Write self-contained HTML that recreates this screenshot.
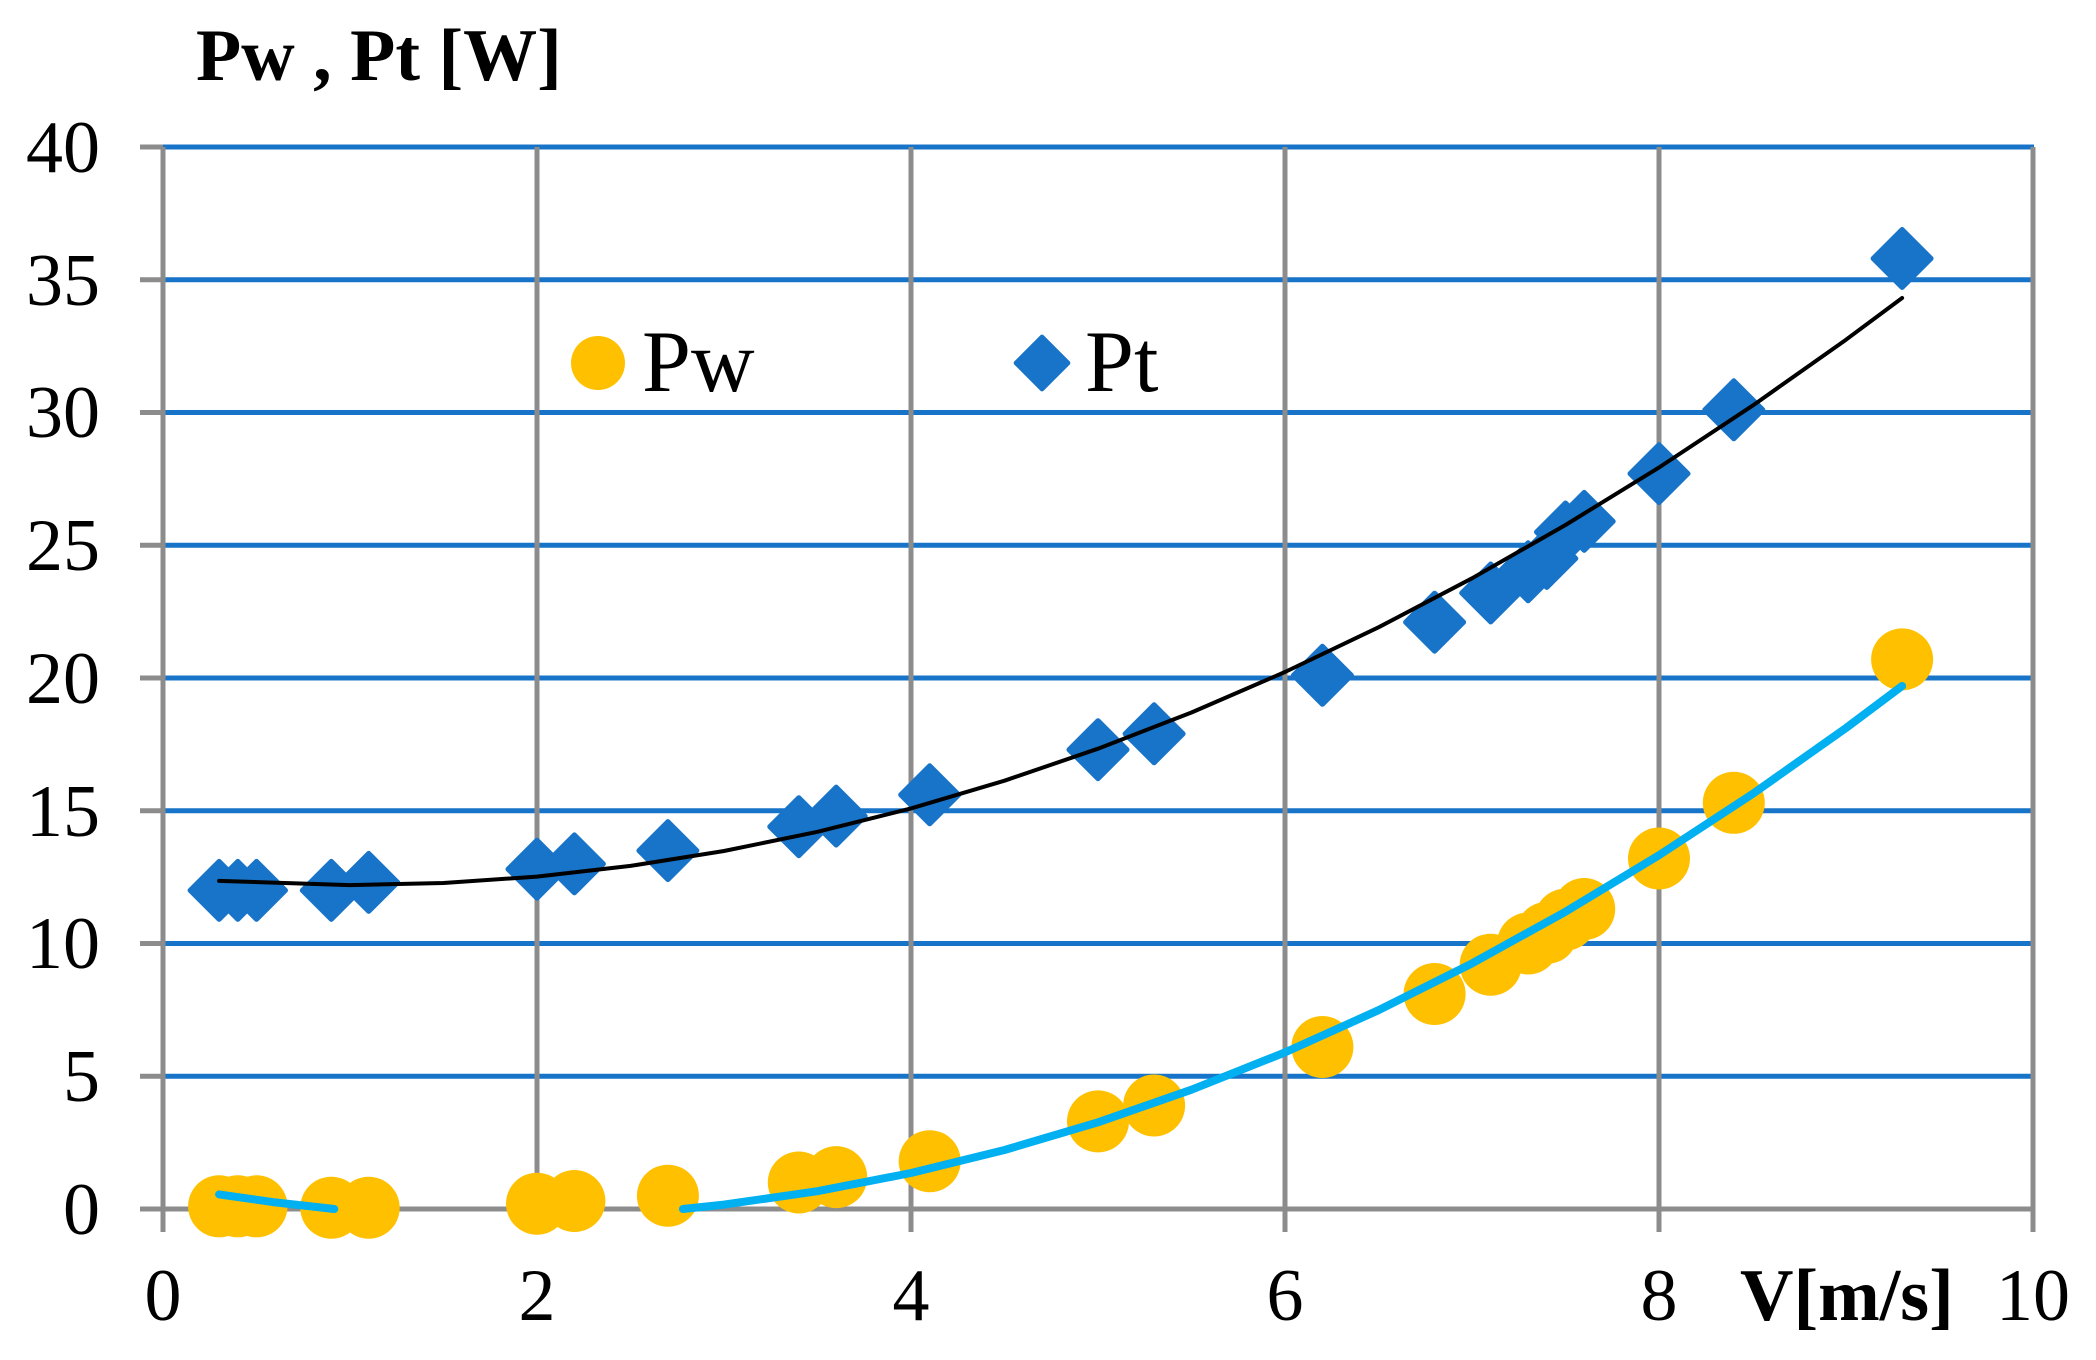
<!DOCTYPE html>
<html><head><meta charset="utf-8"><style>html,body{margin:0;padding:0;background:#fff}svg{display:block}</style></head>
<body>
<svg width="2096" height="1360" viewBox="0 0 2096 1360" xmlns="http://www.w3.org/2000/svg" font-family="'Liberation Serif', serif">
<defs><path id="d" d="M0,-29L29,0L0,29L-29,0Z" fill="#1874C8" stroke="#1874C8" stroke-width="5" stroke-linejoin="round"/></defs>
<g stroke="#1874C8" stroke-width="5">
<line x1="163" x2="2034" y1="1076.25" y2="1076.25"/><line x1="163" x2="2034" y1="943.5" y2="943.5"/>
<line x1="163" x2="2034" y1="810.75" y2="810.75"/><line x1="163" x2="2034" y1="678" y2="678"/>
<line x1="163" x2="2034" y1="545.25" y2="545.25"/><line x1="163" x2="2034" y1="412.5" y2="412.5"/>
<line x1="163" x2="2034" y1="279.75" y2="279.75"/><line x1="163" x2="2034" y1="147" y2="147"/>
</g>
<g stroke="#8C8C8C" stroke-width="5">
<line x1="163" x2="163" y1="147" y2="1232"/><line x1="537" x2="537" y1="147" y2="1232"/>
<line x1="911" x2="911" y1="147" y2="1232"/><line x1="1285" x2="1285" y1="147" y2="1232"/>
<line x1="1659" x2="1659" y1="147" y2="1232"/><line x1="2033" x2="2033" y1="147" y2="1232"/>
<line x1="140" x2="2035" y1="1209" y2="1209"/>
<line x1="140" x2="163" y1="1076.25" y2="1076.25"/><line x1="140" x2="163" y1="943.5" y2="943.5"/>
<line x1="140" x2="163" y1="810.75" y2="810.75"/><line x1="140" x2="163" y1="678" y2="678"/>
<line x1="140" x2="163" y1="545.25" y2="545.25"/><line x1="140" x2="163" y1="412.5" y2="412.5"/>
<line x1="140" x2="163" y1="279.75" y2="279.75"/><line x1="140" x2="163" y1="147" y2="147"/>
</g>
<g font-size="74" text-anchor="end" fill="#000">
<text x="100" y="1234">0</text><text x="100" y="1101">5</text><text x="100" y="968">10</text>
<text x="100" y="836">15</text><text x="100" y="703">20</text><text x="100" y="570">25</text>
<text x="100" y="437">30</text><text x="100" y="305">35</text><text x="100" y="172">40</text>
</g>
<g font-size="74" text-anchor="middle" fill="#000">
<text x="163" y="1320">0</text><text x="537" y="1320">2</text><text x="911" y="1320">4</text>
<text x="1285" y="1320">6</text><text x="1659" y="1320">8</text><text x="2033" y="1320">10</text>
</g>
<text x="1740" y="1320" font-size="74" font-weight="bold">V[m/s]</text>
<text x="196" y="80" font-size="74" font-weight="bold">Pw , Pt [W]</text>
<circle cx="598" cy="363" r="27" fill="#FFC000"/>
<text x="642" y="391" font-size="88">Pw</text>
<use href="#d" x="1042" y="363" transform="translate(1042,363) scale(0.9) translate(-1042,-363)"/>
<text x="1085" y="391" font-size="88">Pt</text>
<g fill="#FFC000">
<circle cx="219.1" cy="1206.3" r="31"/><circle cx="237.8" cy="1206.3" r="31"/><circle cx="256.5" cy="1206.3" r="31"/>
<circle cx="331.3" cy="1207.7" r="31"/><circle cx="368.7" cy="1207.7" r="31"/><circle cx="537" cy="1203.7" r="31"/>
<circle cx="574.4" cy="1201" r="31"/><circle cx="667.9" cy="1195.7" r="31"/><circle cx="798.8" cy="1182.5" r="31"/>
<circle cx="836.2" cy="1177.1" r="31"/><circle cx="929.7" cy="1161.2" r="31"/><circle cx="1098" cy="1121.4" r="31"/>
<circle cx="1154.1" cy="1105.5" r="31"/><circle cx="1322.4" cy="1047" r="31"/><circle cx="1434.6" cy="994" r="31"/>
<circle cx="1490.7" cy="964.7" r="31"/><circle cx="1528.1" cy="943.5" r="31"/><circle cx="1546.8" cy="932.9" r="31"/>
<circle cx="1565.5" cy="919.6" r="31"/><circle cx="1584.2" cy="909" r="31"/><circle cx="1659" cy="858.5" r="31"/>
<circle cx="1733.8" cy="802.8" r="31"/><circle cx="1902.1" cy="659.4" r="31"/>
</g>
<g>
<use href="#d" x="219.1" y="890.4"/><use href="#d" x="237.8" y="890.4"/><use href="#d" x="256.5" y="890.4"/>
<use href="#d" x="331.3" y="890.4"/><use href="#d" x="368.7" y="882.4"/><use href="#d" x="537" y="869.2"/>
<use href="#d" x="574.4" y="863.9"/><use href="#d" x="667.9" y="850.6"/><use href="#d" x="798.8" y="826.7"/>
<use href="#d" x="836.2" y="816.1"/><use href="#d" x="929.7" y="794.8"/><use href="#d" x="1098" y="749.7"/>
<use href="#d" x="1154.1" y="733.8"/><use href="#d" x="1322.4" y="675.3"/><use href="#d" x="1434.6" y="622.2"/>
<use href="#d" x="1490.7" y="593"/><use href="#d" x="1528.1" y="571.8"/><use href="#d" x="1546.8" y="558.5"/>
<use href="#d" x="1565.5" y="532"/><use href="#d" x="1584.2" y="521.4"/><use href="#d" x="1659" y="473.6"/>
<use href="#d" x="1733.8" y="409.8"/><use href="#d" x="1902.1" y="258.5"/>
</g>
<g fill="none" stroke="#00B0F0" stroke-width="8" stroke-linecap="round" stroke-linejoin="round">
<polyline points="219.1,1194.4 275.2,1202.4 334.3,1209"/>
<polyline points="682.9,1209 724,1204.6 817.5,1191.2 911,1173 1004.5,1150 1098,1122.3 1191.5,1089.7 1285,1052.4 1378.5,1010.2 1472,963.4 1565.5,911.7 1659,855.2 1752.5,794 1846,728 1902.1,686"/>
</g>
<polyline fill="none" stroke="#000" stroke-width="4" stroke-linecap="round" stroke-linejoin="round" points="219.1,880.9 350,885.1 443.5,883 537,876.6 630.5,865.9 724,851 817.5,831.8 911,808.4 1004.5,780.7 1098,748.7 1191.5,712.5 1285,672 1378.5,627.3 1472,578.3 1565.5,525 1659,467.5 1752.5,405.7 1846,339.7 1902.1,298"/>
</svg>
</body></html>
